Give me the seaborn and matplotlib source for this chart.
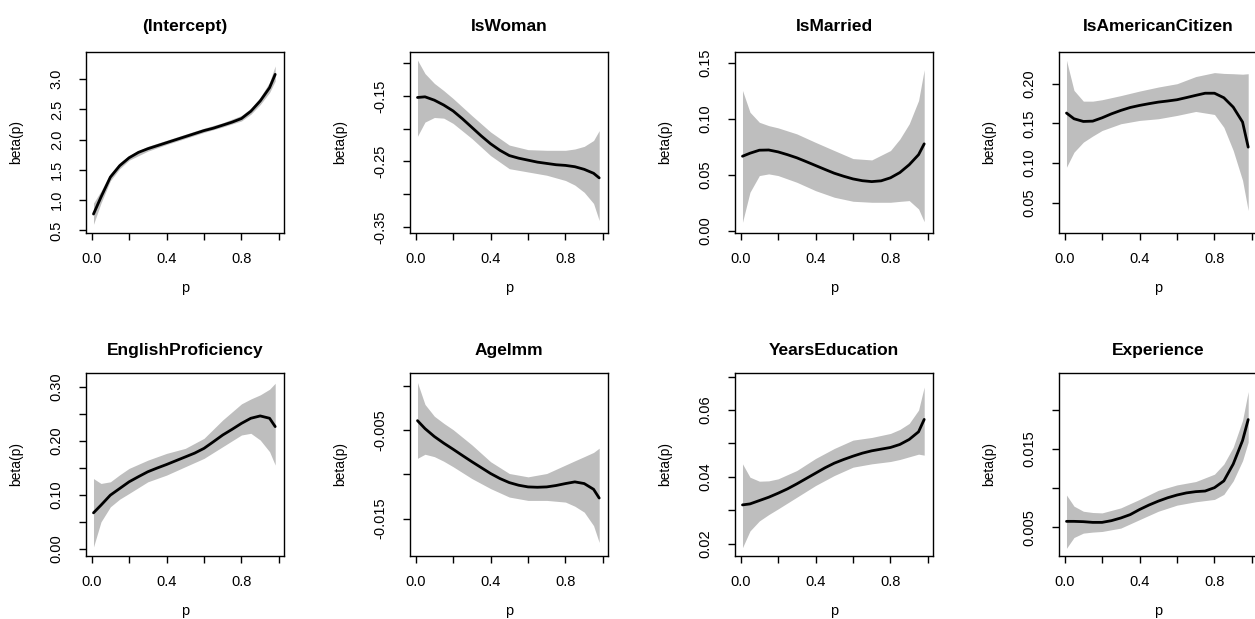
import matplotlib
matplotlib.use("Agg")
import matplotlib.pyplot as plt
import seaborn as sns

# ---------------- data ----------------
P_FIT = [0.01, 0.05, 0.10, 0.15, 0.20, 0.25, 0.30, 0.35, 0.40, 0.45, 0.50,
         0.55, 0.60, 0.65, 0.70, 0.75, 0.80, 0.85, 0.90, 0.95, 0.98]
P_BAND = [0.01, 0.05, 0.10, 0.15, 0.20, 0.30, 0.40, 0.50, 0.60, 0.70, 0.80,
          0.85, 0.90, 0.95, 0.98]

titles = ["(Intercept)", "IsWoman", "IsMarried", "IsAmericanCitizen",
          "EnglishProficiency", "AgeImm", "YearsEducation", "Experience"]

intercept_fit = [0.77, 1.05, 1.38, 1.57, 1.70, 1.79, 1.85, 1.90, 1.95, 2.00, 2.05,
                 2.10, 2.15, 2.19, 2.24, 2.29, 2.35, 2.47, 2.64, 2.86, 3.08]
intercept_lo = [0.60, 0.95, 1.32, 1.52, 1.66, 1.81, 1.92, 2.02, 2.12, 2.21, 2.31,
                2.42, 2.58, 2.78, 2.97]
intercept_hi = [0.95, 1.15, 1.44, 1.62, 1.74, 1.89, 1.99, 2.09, 2.19, 2.28, 2.40,
                2.52, 2.70, 2.95, 3.22]

woman_fit = [-0.1525, -0.1515, -0.1566, -0.164, -0.173, -0.185, -0.198, -0.211,
             -0.223, -0.233, -0.241, -0.245, -0.248, -0.251, -0.253, -0.255,
             -0.256, -0.258, -0.262, -0.268, -0.275]
woman_lo = [-0.2116, -0.190, -0.183, -0.184, -0.192, -0.215, -0.241, -0.261,
            -0.266, -0.271, -0.279, -0.286, -0.297, -0.314, -0.340]
woman_hi = [-0.0955, -0.116, -0.131, -0.142, -0.154, -0.180, -0.205, -0.225,
            -0.232, -0.233, -0.233, -0.231, -0.227, -0.218, -0.203]

married_fit = [0.0666, 0.0693, 0.0720, 0.0722, 0.0705, 0.0680, 0.0652, 0.0618,
               0.0583, 0.0548, 0.0514, 0.0487, 0.0463, 0.0447, 0.0439, 0.0446,
               0.0473, 0.0520, 0.0590, 0.0680, 0.0777]
married_lo = [0.0075, 0.0344, 0.0493, 0.0508, 0.0493, 0.0433, 0.0358, 0.0299,
              0.0263, 0.0254, 0.0254, 0.0262, 0.0269, 0.0194, 0.0080]
married_hi = [0.1255, 0.106, 0.097, 0.094, 0.092, 0.0866, 0.079, 0.0717,
              0.0645, 0.0633, 0.0717, 0.082, 0.0956, 0.1165, 0.144]

citizen_fit = [0.163, 0.1558, 0.1524, 0.1528, 0.157, 0.1620, 0.1663, 0.1700,
               0.1726, 0.1748, 0.1768, 0.1782, 0.1798, 0.1825, 0.1853, 0.1880,
               0.1880, 0.1823, 0.1705, 0.1516, 0.120]
citizen_lo = [0.0947, 0.1136, 0.1263, 0.134, 0.141, 0.1495, 0.1537, 0.1558,
              0.160, 0.165, 0.1612, 0.145, 0.1158, 0.078, 0.040]
citizen_hi = [0.2295, 0.1916, 0.178, 0.178, 0.1798, 0.185, 0.1907, 0.1958,
              0.200, 0.209, 0.214, 0.213, 0.2126, 0.2120, 0.2126]

english_fit = [0.0667, 0.0809, 0.0994, 0.1117, 0.124, 0.1335, 0.1426, 0.1495,
               0.156, 0.163, 0.170, 0.177, 0.1858, 0.198, 0.2105, 0.221, 0.232,
               0.2414, 0.2457, 0.2414, 0.226]
english_lo = [0.0037, 0.050, 0.0778, 0.092, 0.1025, 0.124, 0.1364, 0.1519,
              0.1673, 0.1889, 0.2105, 0.2136, 0.2012, 0.1796, 0.155]
english_hi = [0.130, 0.121, 0.124, 0.137, 0.1488, 0.164, 0.1765, 0.1858,
              0.2043, 0.2383, 0.268, 0.277, 0.2846, 0.295, 0.306]

ageimm_fit = [-0.0039, -0.0048, -0.0057, -0.00645, -0.00714, -0.00785, -0.00855,
              -0.00922, -0.00989, -0.01046, -0.01092, -0.01122, -0.01141,
              -0.01145, -0.01141, -0.01125, -0.01103, -0.01084, -0.01103,
              -0.01168, -0.01267]
ageimm_lo = [-0.00817, -0.00771, -0.00798, -0.00850, -0.00912, -0.01046, -0.0116,
             -0.01256, -0.01294, -0.01294, -0.01313, -0.01360, -0.01427,
             -0.0158, -0.01771]
ageimm_hi = [0.00042, -0.00206, -0.0034, -0.0042, -0.00492, -0.00664, -0.00855,
             -0.00989, -0.01027, -0.00989, -0.00893, -0.00845, -0.00798,
             -0.00750, -0.00702]

educ_fit = [0.0316, 0.0319, 0.0329, 0.0339, 0.0351, 0.0364, 0.0379, 0.0395,
            0.0411, 0.0427, 0.0441, 0.0452, 0.0462, 0.0471, 0.0478, 0.0483,
            0.0488, 0.0497, 0.0512, 0.0535, 0.0572]
educ_lo = [0.0188, 0.0238, 0.0268, 0.0287, 0.0304, 0.0339, 0.0374, 0.0404,
           0.0429, 0.0439, 0.0446, 0.0452, 0.0460, 0.0468, 0.0465]
educ_hi = [0.0439, 0.0399, 0.0387, 0.0388, 0.0394, 0.0419, 0.0455, 0.0485,
           0.0510, 0.0518, 0.0530, 0.0542, 0.0560, 0.0600, 0.0669]

exper_fit = [0.00577, 0.00577, 0.00573, 0.00564, 0.00564, 0.00586, 0.0062,
             0.00663, 0.00728, 0.00785, 0.00835, 0.00878, 0.00913, 0.00940,
             0.00956, 0.00964, 0.01007, 0.01093, 0.01308, 0.01609, 0.01876]
exper_lo = [0.00233, 0.00371, 0.00427, 0.00440, 0.00448, 0.00491, 0.00599,
            0.00706, 0.00784, 0.00827, 0.00857, 0.00921, 0.01093, 0.01351,
            0.01588]
exper_hi = [0.00913, 0.00771, 0.00706, 0.00690, 0.00685, 0.00749, 0.00857,
            0.00973, 0.01042, 0.01085, 0.01179, 0.01308, 0.01523, 0.01867,
            0.02233]

x_ticks = [0.0, 0.2, 0.4, 0.6, 0.8, 1.0]
x_ticklabels = ["0.0", "", "0.4", "", "0.8", ""]

y_ticks = [
    [0.5, 1.0, 1.5, 2.0, 2.5, 3.0],
    [-0.35, -0.30, -0.25, -0.20, -0.15, -0.10],
    [0.00, 0.05, 0.10, 0.15],
    [0.05, 0.10, 0.15, 0.20],
    [0.00, 0.05, 0.10, 0.15, 0.20, 0.25, 0.30],
    [-0.015, -0.010, -0.005, 0.000],
    [0.02, 0.03, 0.04, 0.05, 0.06, 0.07],
    [0.005, 0.010, 0.015, 0.020],
]
y_ticklabels = [
    ["0.5", "1.0", "1.5", "2.0", "2.5", "3.0"],
    ["-0.35", "", "-0.25", "", "-0.15", ""],
    ["0.00", "0.05", "0.10", "0.15"],
    ["0.05", "0.10", "0.15", "0.20"],
    ["0.00", "", "0.10", "", "0.20", "", "0.30"],
    ["-0.015", "", "-0.005", ""],
    ["0.02", "", "0.04", "", "0.06", ""],
    ["0.005", "", "0.015", ""],
]

fits = [intercept_fit, woman_fit, married_fit, citizen_fit,
        english_fit, ageimm_fit, educ_fit, exper_fit]
los = [intercept_lo, woman_lo, married_lo, citizen_lo,
       english_lo, ageimm_lo, educ_lo, exper_lo]
his = [intercept_hi, woman_hi, married_hi, citizen_hi,
       english_hi, ageimm_hi, educ_hi, exper_hi]

# ---------------- layout / style ----------------
y_lims = [(0.456, 3.45), (-0.359, -0.0832), (-0.0021, 0.1599), (0.0117, 0.240),
          (-0.013, 0.325), (-0.01924, 0.0015), (0.0163, 0.0711), (0.00135, 0.0247)]

sns.set_style("ticks")
plt.rcParams["font.family"] = ["Liberation Sans", "DejaVu Sans"]
plt.rcParams["text.color"] = "black"
plt.rcParams["axes.labelcolor"] = "black"

W, H = 1255, 619
fig = plt.figure(figsize=(W / 100, H / 100), dpi=100)
fig.patch.set_facecolor("white")

lefts = [86, 410, 735, 1059]
box_w = 198
rows = [(52, 233), (373, 556)]

for i in range(8):
    r, c = divmod(i, 4)
    top, bot = rows[r]
    ax = fig.add_axes([lefts[c] / W, 1 - bot / H, box_w / W, (bot - top) / H])
    ax.fill_between(P_BAND, los[i], his[i], color="#BEBEBE", lw=0)
    sns.lineplot(x=P_FIT, y=fits[i], ax=ax, color="black", lw=2)
    ax.set_xlim(-0.03, 1.027)
    ax.set_ylim(*y_lims[i])
    ax.set_xticks(x_ticks)
    ax.set_xticklabels(x_ticklabels, fontsize=10.5)
    ax.set_yticks(y_ticks[i])
    ax.set_yticklabels(y_ticklabels[i], fontsize=10.5, rotation=90, va="center")
    ax.tick_params(axis="both", direction="out", length=5, width=1,
                   colors="black", labelcolor="black")
    ax.tick_params(axis="x", pad=9)
    ax.tick_params(axis="y", pad=11)
    for s in ax.spines.values():
        s.set_visible(True)
        s.set_color("black")
        s.set_linewidth(1)
    ax.set_title(titles[i], fontsize=12.5, fontweight="bold", color="black",
                 pad=15 if r == 0 else 13)
    ax.set_xlabel("p", fontsize=10.5, color="black")
    ax.set_ylabel("beta(p)", fontsize=10, color="black")
    ax.xaxis.set_label_coords(0.5, -55 / (bot - top))
    ax.xaxis.label.set_va("center")
    ax.yaxis.set_label_coords(-70 / box_w, 0.5)
    ax.yaxis.label.set_va("center")
    ax.grid(False)

fig.savefig("out.png", dpi=100)
